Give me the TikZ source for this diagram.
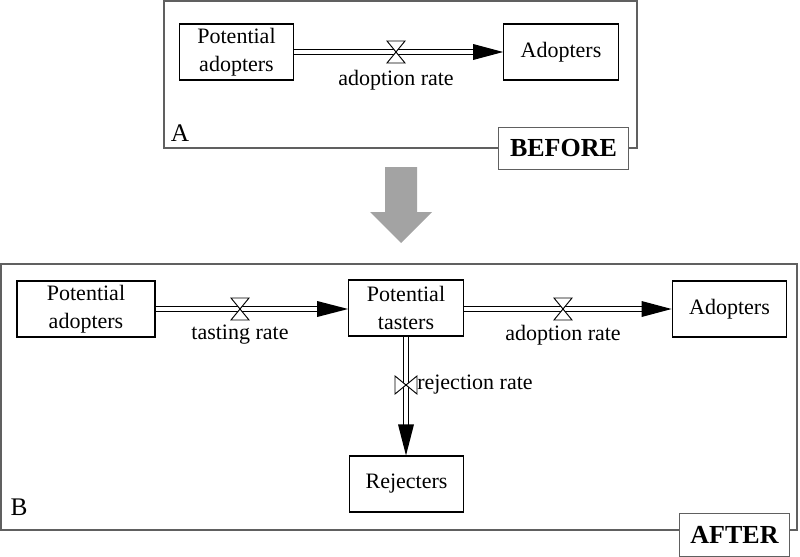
\documentclass[tikz,border=0pt]{standalone}
\usepackage{fontspec}
\setmainfont{Liberation Serif}
\usetikzlibrary{positioning}
\definecolor{framegray}{RGB}{96,96,96}
\definecolor{biggray}{RGB}{163,163,163}

\begin{document}
\begin{tikzpicture}[
            x=0.75pt, y=-0.75pt,
            font=\fontsize{16.5}{21}\selectfont,
            sd stock/.style ={draw, line width=0.8pt, align=center, inner sep=0pt,
                              minimum width=86pt, minimum height=42pt},
            sd pipe/.style  ={double, double distance=3.4pt, line width=0.75pt, shorten >=21pt},
            sd valve/.style ={draw, fill=white, line width=0.7pt, line join=miter},
            sd frame/.style ={draw=framegray, line width=0.9pt},
            sd tag/.style   ={draw=framegray, fill=white, line width=0.9pt, inner sep=0pt,
                              minimum height=32pt, font=\fontsize{19.5}{22}\selectfont\bfseries},
            sd letter/.style={font=\fontsize{19}{22}\selectfont}
        ]
        \useasboundingbox (0,0) rectangle (800,557);
        %% --- Panel (A): before, one flow ---------------------------------------
        \draw[sd frame] (164,1) rectangle (637,148);
        \node[sd tag, minimum width=97pt] (before) at (563.5,148.5) {BEFORE};
        \node[sd letter] (lblA) at (180,133) {A};
        \node[sd stock] (PA0) at (236.5,52) {Potential\\adopters};
        \node[sd stock] (AD0) at (561,52) {Adopters};
        \coordinate (vA0) at (396,52);
        \draw[sd pipe] (PA0.east) -- (AD0.west);
        \node (rA0) at (396,80) {adoption rate};
        %% --- big arrow ---------------------------------------------------------
        \fill[biggray] (385,167) -- (417,167) -- (417,212) -- (432,212)
            -- (401,243) -- (370,212) -- (385,212) -- cycle;
        %% --- Panel (B): after, three flows -------------------------------------
        \draw[sd frame] (1,264) rectangle (797,530);
        \node[sd tag, minimum width=83pt] (after) at (734.5,535) {AFTER};
        \node[sd letter] (lblB) at (19,507) {B};
        \node[sd stock, minimum width=103.5pt] (PA) at (86,309) {Potential\\adopters};
        \node[sd stock] (PT) at (406,308) {Potential\\tasters};
        \node[sd stock] (AD) at (729.5,309) {Adopters};
        \node[sd stock] (RJ) at (406.5,484) {Rejecters};
        \coordinate (vT) at (240,309);
        \coordinate (vD) at (563,309);
        \coordinate (vR) at (406,385);
        \draw[sd pipe] (PA.east) -- (PA.east -| PT.west);
        \draw[sd pipe] (PT.east |- AD.west) -- (AD.west);
        \draw[sd pipe] (PT.south -| vR) -- (RJ.north -| vR);
        \node (rT) at (240,335) {tasting rate};
        \node (rD) at (563,335) {adoption rate};
        \node[anchor=west, inner sep=0pt] (rR) at (417,385) {rejection rate};
        %% --- valves and heads --------------------------------------------------
        \foreach \v in {vA0, vT, vD} {
                \draw[sd valve, shift={(\v)}] (-9,-11) -- (9,-11) -- (-9,11) -- (9,11) -- cycle;
            }
        \draw[sd valve, shift={(vR)}] (-11,-9) -- (-11,9) -- (11,-9) -- (11,9) -- cycle;
        \foreach \s in {AD0, AD} {
                \fill (\s.west) -- ++(-30,8) -- ++(0,-16) -- cycle;
            }
        \fill (PA.east -| PT.west) -- ++(-31,8) -- ++(0,-16) -- cycle;
        \fill (RJ.north -| vR) -- ++(8,-31) -- ++(-16,0) -- cycle;
    \end{tikzpicture}
\end{document}
